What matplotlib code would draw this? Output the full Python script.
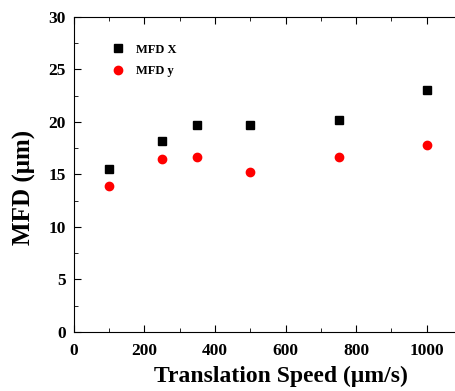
import matplotlib
matplotlib.use('Agg')
import matplotlib.pyplot as plt
from matplotlib.ticker import MultipleLocator

speed = [100, 250, 350, 500, 750, 1000]
mfd_x = [15.5, 18.2, 19.7, 19.7, 20.2, 23.0]
mfd_y = [13.9, 16.5, 16.7, 15.2, 16.7, 17.8]

plt.rcParams['font.family'] = 'Liberation Serif'
plt.rcParams['font.weight'] = 'bold'

fig = plt.figure(figsize=(4.56, 3.91), dpi=100)
ax = fig.add_axes([0.162, 0.151, 0.838, 0.806])

ax.plot(speed, mfd_x, 's', color='black', markersize=5.3, label='MFD X')
ax.plot(speed, mfd_y, 'o', color='red', markersize=6, label='MFD y')

ax.set_xlim(0, 1083)
ax.set_ylim(0, 30)
ax.xaxis.set_major_locator(MultipleLocator(200))
ax.xaxis.set_minor_locator(MultipleLocator(100))
ax.yaxis.set_major_locator(MultipleLocator(5))
ax.yaxis.set_minor_locator(MultipleLocator(2.5))
ax.tick_params(which='both', direction='in', top=True, right=False, labelsize=12.5)
ax.tick_params(which='major', length=5)
ax.tick_params(which='minor', length=3)
ax.tick_params(axis='x', which='major', pad=8)
ax.tick_params(axis='y', which='major', pad=6)
ax.spines['right'].set_visible(False)

ax.set_xlabel('Translation Speed (\u03bcm/s)', fontsize=17, fontweight='bold')
ax.set_ylabel('MFD (\u03bcm)', fontsize=18, fontweight='bold')
ax.xaxis.set_label_coords(0.542, -0.108)
ax.yaxis.set_label_coords(-0.10, 0.46)

ax.legend(loc='upper left', bbox_to_anchor=(0.07, 0.93), frameon=False,
          handletextpad=0.4, borderaxespad=0, labelspacing=0.75,
          prop={'weight': 'bold', 'size': 9})

fig.savefig('out.png', dpi=100)
